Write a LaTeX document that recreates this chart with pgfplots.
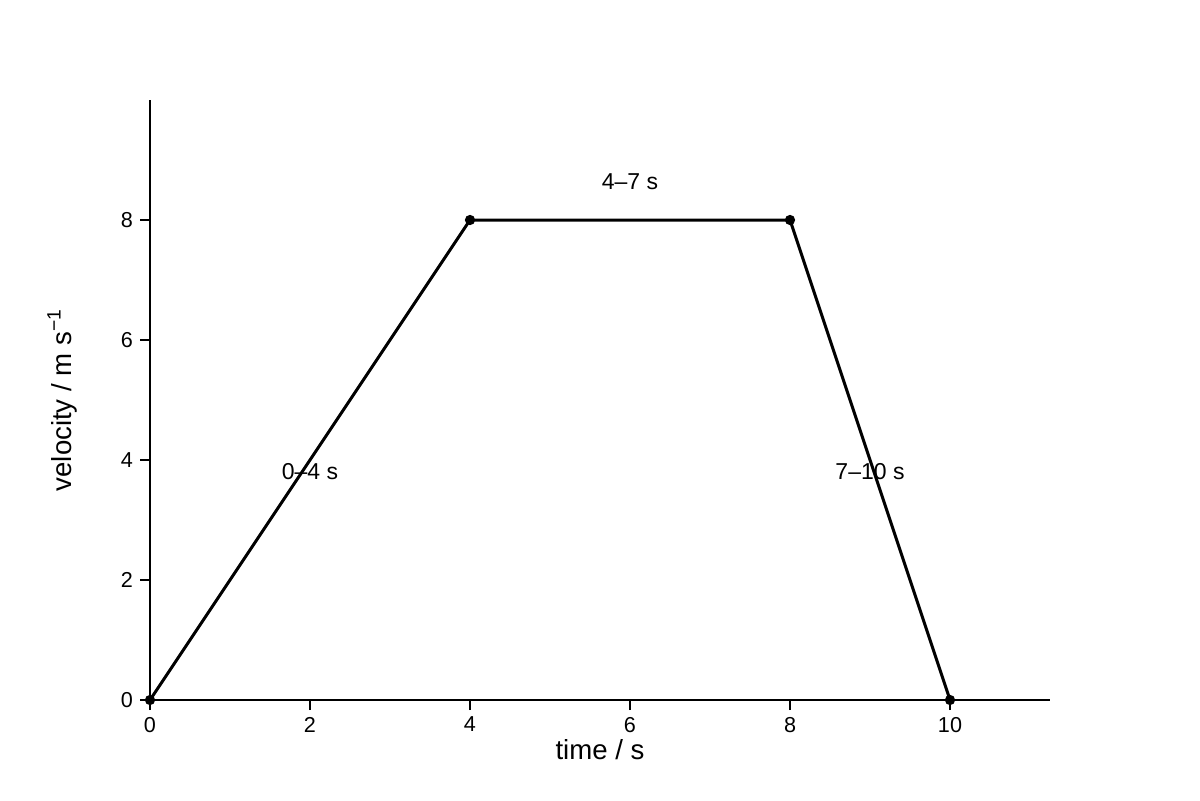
\documentclass[border=0pt]{standalone}
\usepackage{pgfplots}
\pgfplotsset{compat=1.18}
\usepackage{fontspec}
\setmainfont{Liberation Sans}

\begin{document}
\begin{tikzpicture}
\path[use as bounding box] (0,0) rectangle (600pt,400pt);
\begin{axis}[
    at={(75pt,50pt)}, anchor=south west,
    scale only axis,
    width=450pt, height=300pt,
    xmin=0, xmax=11.25,
    ymin=0, ymax=10,
    axis lines=left,
    axis line style={-, line width=1pt},
    xtick={0,2,4,6,8,10},
    ytick={0,2,4,6,8},
    tick align=outside,
    major tick length=5pt,
    tick style={line width=1pt, black},
    ticklabel style={font=\fontsize{10.8}{12}\selectfont},
    /pgf/number format/assume math mode=true,
    clip=false,
]
\addplot[black, line width=1.5pt, mark=*, mark size=2.3pt, mark options={line width=0.5pt}]
    coordinates {(0,0) (4,8) (8,8) (10,0)};
\node[font=\fontsize{11.5}{13}\selectfont] at (axis cs:2,3.8) {0–4 s};
\node[font=\fontsize{11.5}{13}\selectfont] at (axis cs:6,8.63) {4–7 s};
\node[font=\fontsize{11.5}{13}\selectfont] at (axis cs:9,3.8) {7–10 s};
\coordinate (xl) at (axis description cs:0.5,0);
\coordinate (yl) at (axis description cs:0,0.5);
\end{axis}
\node[font=\fontsize{13.8}{16}\selectfont, anchor=center] at ([yshift=-25pt]xl) {time / s};
\node[font=\fontsize{13.8}{16}\selectfont, rotate=90, anchor=center] at ([xshift=-44pt]yl) {velocity / m s\textsuperscript{−1}};
\end{tikzpicture}
\end{document}
